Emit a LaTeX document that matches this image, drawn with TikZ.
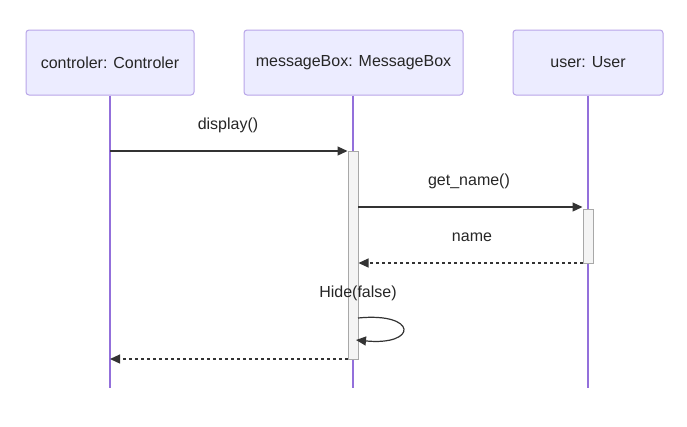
\documentclass[tikz,border=0pt]{standalone}
\usepackage{fontspec}
\setmainfont{Liberation Sans}
\usetikzlibrary{arrows.meta}
\definecolor{actfill}{HTML}{ECECFF}
\definecolor{actdraw}{HTML}{B8A5E8}
\definecolor{lifeln}{HTML}{9370DB}
\definecolor{msg}{HTML}{333333}
\definecolor{actvfill}{HTML}{F4F4F4}
\definecolor{actvdraw}{HTML}{A8A8A8}
\begin{document}
\begin{tikzpicture}[x=1pt,y=-1pt,
  actor/.style={draw=actdraw,fill=actfill,line width=1pt,rounded corners=3pt,minimum height=65pt,inner sep=0pt,font=\fontsize{16}{19}\selectfont,text=black!85},
  life/.style={draw=lifeln,line width=1.2pt},
  actv/.style={draw=actvdraw,fill=actvfill,line width=1pt},
  msgline/.style={draw=msg,line width=1.2pt,-{Triangle[length=10pt,width=9pt]}},
  ret/.style={msgline,dash pattern=on 3pt off 3pt},
  lbl/.style={font=\fontsize{16}{19}\selectfont,text=black!85,inner sep=0pt}]
\useasboundingbox (0,0) rectangle (687,426);
% actors
\node[actor,minimum width=168pt] (c) at (110,62.5) {controler: Controler};
\node[actor,minimum width=219pt] (m) at (353.5,62.5) {messageBox: MessageBox};
\node[actor,minimum width=150pt] (u) at (588,62.5) {user: User};
% lifelines
\coordinate (cb) at (110,388);
\coordinate (mb) at (353,388);
\coordinate (ub) at (588,388);
\draw[life] (c.south) -- (cb);
\draw[life] (m.south -| mb) -- (mb);
\draw[life] (u.south) -- (ub);
% activations
\node[actv,minimum width=10pt,minimum height=208pt,inner sep=0pt,anchor=north] (ma) at (353,151) {};
\node[actv,minimum width=10pt,minimum height=54pt,inner sep=0pt,anchor=north] (ua) at (588,209) {};
% messages
\coordinate (c1) at (110,151);
\draw[msgline] (c1) -- (c1 -| ma.west);
\node[lbl] (l1) at (228,125) {display()};
\coordinate (m2) at (358,207);
\draw[msgline] (m2) -- (m2 -| ua.west);
\node[lbl] (l2) at (469,181) {get\_name()};
\coordinate (u3) at (583,263);
\draw[ret] (u3) -- (u3 -| ma.east);
\node[lbl] (l3) at (472,237) {name};
\node[lbl] (l4) at (358,293) {Hide(false)};
\coordinate (s1) at (358,318);
\coordinate (s2) at (356,340);
\draw[msgline] (s1) .. controls (418,312) and (418,346) .. (s2);
\coordinate (c5) at (110,359);
\draw[ret] (c5 -| ma.west) -- (c5);
\end{tikzpicture}
\end{document}
